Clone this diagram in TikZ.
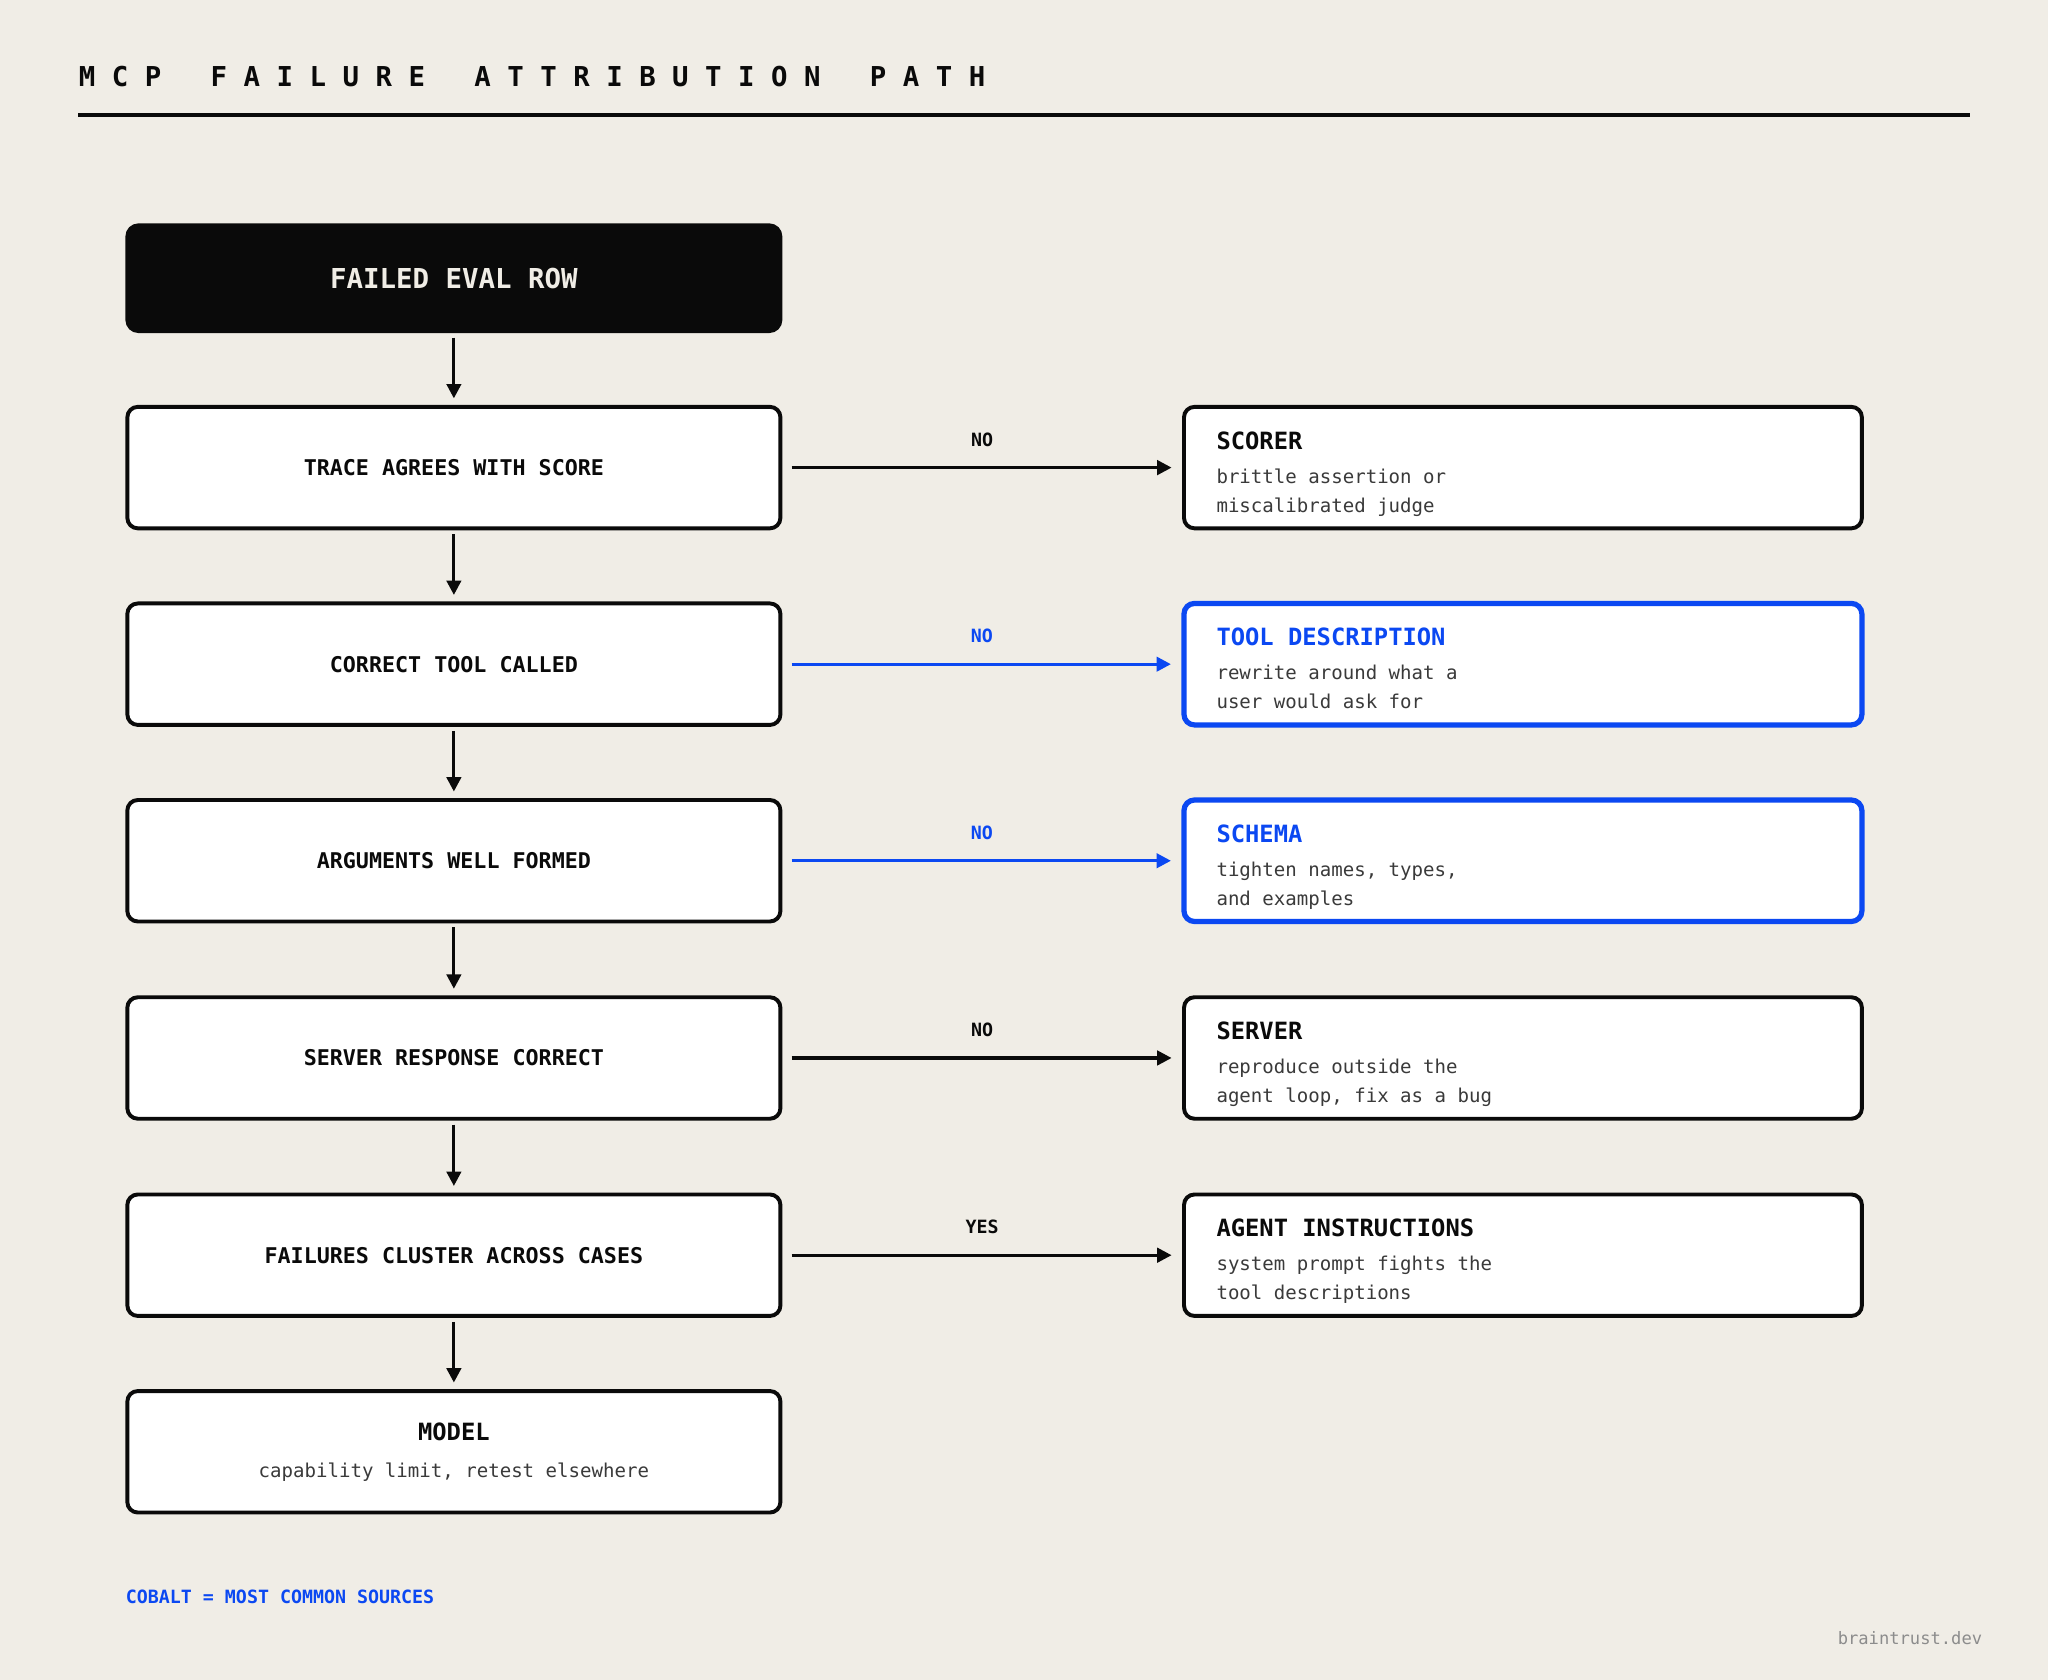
\documentclass[tikz,border=0pt]{standalone}
\usepackage{fontspec}
\setmainfont{DejaVu Sans Mono}
\usetikzlibrary{arrows.meta}

\definecolor{paper}{HTML}{F0EDE6}
\definecolor{ink}{HTML}{0A0A0A}
\definecolor{cobalt}{HTML}{0B48F2}
\definecolor{body}{HTML}{3A3A3A}
\definecolor{mute}{HTML}{8C8C8C}

\tikzset{
    startbox/.style={fill=ink, rounded corners=5pt, minimum width=251.5pt, minimum height=42pt, inner sep=0pt,
        text=paper, font=\bfseries\fontsize{10.5}{12}\selectfont},
    stepbox/.style={draw=ink, fill=white, line width=1.5pt, rounded corners=4pt, minimum width=250pt,
        minimum height=46.5pt, inner sep=0pt, text=ink, font=\bfseries\fontsize{8.3}{10}\selectfont},
    sinkbox/.style={stepbox, minimum width=259.5pt},
    hot/.style={draw=cobalt, line width=2pt},
    head/.style={inner sep=0pt, text=ink, font=\bfseries\fontsize{9.1}{11}\selectfont},
    note/.style={inner sep=0pt, text=body, font=\fontsize{7.3}{9}\selectfont},
    flow/.style={-{Triangle[length=5.5pt,width=5.5pt]}, line width=1.2pt, ink, shorten <=1.5pt, shorten >=2.5pt},
    tag/.style={above=7.5pt, inner sep=0pt, font=\bfseries\fontsize{7}{8}\selectfont}
}

\begin{document}
\begin{tikzpicture}[x=0.5pt,y=-0.5pt]
        \fill[paper] (0,0) rectangle (1568,1286);

        % title
        \node[anchor=base west, inner sep=0pt, text=ink, font=\bfseries\fontsize{10.48}{12}\selectfont] (title) at (60,66)
            {M~C~P~~~F~A~I~L~U~R~E~~~A~T~T~R~I~B~U~T~I~O~N~~~P~A~T~H};
        \draw[ink, line width=1.5pt] (60,88) -- (1508,88);

        % checks
        \node[startbox] (row) at (347.5,213) {FAILED EVAL ROW};
        \node[stepbox] (trace) at (347.5,358) {TRACE AGREES WITH SCORE};
        \node[stepbox] (called) at (347.5,508.5) {CORRECT TOOL CALLED};
        \node[stepbox] (args) at (347.5,659) {ARGUMENTS WELL FORMED};
        \node[stepbox] (resp) at (347.5,810) {SERVER RESPONSE CORRECT};
        \node[stepbox] (cluster) at (347.5,961) {FAILURES CLUSTER ACROSS CASES};
        \node[stepbox] (model) at (347.5,1111.5) {};
        \node[head, anchor=base] (model-t) at (347.5,1103) {MODEL};
        \node[note, anchor=base] (model-d) at (347.5,1131) {capability limit, retest elsewhere};

        % sources
        \node[sinkbox] (scorer) at (1166,358) {};
        \node[head, anchor=base west] (scorer-t) at (931,344) {SCORER};
        \node[note, anchor=base west] (scorer-a) at (931,370) {brittle assertion or};
        \node[note, anchor=base west] (scorer-b) at (931,392) {miscalibrated judge};

        \node[sinkbox, hot] (desc) at (1166,508.5) {};
        \node[head, anchor=base west, text=cobalt] (desc-t) at (931,494.5) {TOOL DESCRIPTION};
        \node[note, anchor=base west] (desc-a) at (931,520.5) {rewrite around what a};
        \node[note, anchor=base west] (desc-b) at (931,542.5) {user would ask for};

        \node[sinkbox, hot] (schema) at (1166,659) {};
        \node[head, anchor=base west, text=cobalt] (schema-t) at (931,645) {SCHEMA};
        \node[note, anchor=base west] (schema-a) at (931,671) {tighten names, types,};
        \node[note, anchor=base west] (schema-b) at (931,693) {and examples};

        \node[sinkbox] (server) at (1166,810) {};
        \node[head, anchor=base west] (server-t) at (931,796) {SERVER};
        \node[note, anchor=base west] (server-a) at (931,822) {reproduce outside the};
        \node[note, anchor=base west] (server-b) at (931,844) {agent loop, fix as a bug};

        \node[sinkbox] (agent) at (1166,961) {};
        \node[head, anchor=base west] (agent-t) at (931,947) {AGENT INSTRUCTIONS};
        \node[note, anchor=base west] (agent-a) at (931,973) {system prompt fights the};
        \node[note, anchor=base west] (agent-b) at (931,995) {tool descriptions};

        % down the checks
        \draw[flow] (row) -- (trace);
        \draw[flow] (trace) -- (called);
        \draw[flow] (called) -- (args);
        \draw[flow] (args) -- (resp);
        \draw[flow] (resp) -- (cluster);
        \draw[flow] (cluster) -- (model);

        % out to the sources
        \draw[flow, shorten <=3.5pt, shorten >=4pt] (trace) -- node[tag] {NO} (scorer);
        \draw[flow, cobalt, shorten <=3.5pt, shorten >=4pt] (called) -- node[tag] {NO} (desc);
        \draw[flow, cobalt, shorten <=3.5pt, shorten >=4pt] (args) -- node[tag] {NO} (schema);
        \draw[flow, shorten <=3.5pt, shorten >=4pt] (resp) -- node[tag] {NO} (server);
        \draw[flow, shorten <=3.5pt, shorten >=4pt] (cluster) -- node[tag] {YES} (agent);

        \node[anchor=base west, inner sep=0pt, text=cobalt, font=\bfseries\fontsize{7}{8}\selectfont] (key) at (96,1228)
            {COBALT = MOST COMMON SOURCES};
        \node[anchor=base east, inner sep=0pt, text=mute, font=\fontsize{6.56}{8}\selectfont] (credit) at (1518,1259)
            {braintrust.dev};
\end{tikzpicture}
\end{document}
